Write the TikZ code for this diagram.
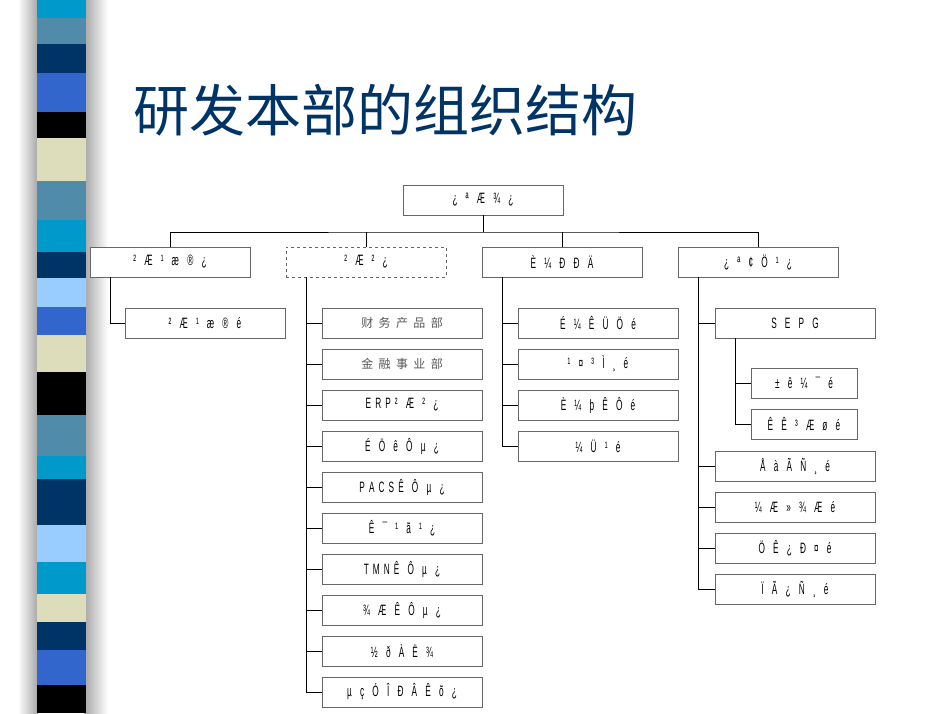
\documentclass[tikz,border=0pt]{standalone}
\usepackage{fontspec}
\setmainfont{Liberation Sans}
\newfontfamily\boxfont{Liberation Sans}[FakeStretch=0.55, LetterSpace=12]
\newfontfamily\cjk{Noto Sans CJK SC}
\begin{document}
\begin{tikzpicture}[x=1pt,y=-1pt,
	box/.style={draw=gray!80!black, thick, fill=white, minimum width=160pt, minimum height=30pt, inner sep=0pt, font=\boxfont\fontsize{15}{16}\selectfont},
	small/.style={box, minimum width=106pt},
	line/.style={thick, black}]
	\useasboundingbox (0,0) rectangle (950,713);
	\fill[white] (0,0) rectangle (950,713);
	% shadow of the band
	\shade[left color=white, right color=gray!70] (18,0) rectangle (38,713);
	\shade[left color=gray!70, right color=white] (84,0) rectangle (108,713);
	% band
	\foreach \ya/\yb/\r/\g/\b in {0/18/0/153/204, 18/44/80/140/170, 44/73/0/51/102, 73/112/51/102/204, 112/138/0/0/0, 138/181/221/221/187, 181/220/80/140/170, 220/252/0/153/204, 252/278/0/51/102, 278/307/153/204/255, 307/335/51/102/204, 335/372/221/221/187, 372/415/0/0/0, 415/456/80/140/170, 456/479/0/153/204, 479/525/0/51/102, 525/562/153/204/255, 562/594/0/153/204, 594/622/221/221/187, 622/650/0/51/102, 650/685/51/102/204, 685/713/0/0/0}
		\fill[fill={rgb,255:red,\r;green,\g;blue,\b}] (37,\ya) rectangle (86,\yb);
	% title
	\node[anchor=west, text={rgb,255:red,0;green,51;blue,102}, font=\cjk\fontsize{56}{60}\selectfont, inner sep=0pt] (title) at (133,110) {研发本部的组织结构};
	% top level
	\node[box] (top) at (483,200) {¿\ \ ª\ \ Æ\ \ ¾\ \ ¿};
	\node[box] (cm) at (170,262) {²\ \ Æ\ \ ¹\ \ æ\ \ ®\ \ ¿};
	\node[box, dashed] (pd) at (366,262) {²\ \ Æ\ \ ²\ \ ¿};
	\node[box] (sw) at (562,262) {È\ \ ¼\ \ Ð\ \ Ð\ \ Ä};
	\node[box] (dev) at (758,262) {¿\ \ ª\ \ ¢\ \ Ö\ \ ¹\ \ ¿};
	\coordinate (bus) at (483,232);
	\draw[line] (top) -- (bus);
	\draw[line] (cm.north) |- (bus) -| (dev.north);
	\draw[line] (pd.north) -- (pd.north |- bus);
	\draw[line] (sw.north) -- (sw.north |- bus);
	% first column
	\node[box] (cm1) at (205,323) {²\ \ Æ\ \ ¹\ \ æ\ \ ®\ \ é};
	\draw[line] (110,277) |- (cm1.west);
	% second column
	\foreach \i/\t in {1/{{\cjk\fontsize{12}{14}\selectfont\color{gray!70!black}财\ \ 务\ \ 产\ \ 品\ \ 部}}, 2/{{\cjk\fontsize{12}{14}\selectfont\color{gray!70!black}金\ \ 融\ \ 事\ \ 业\ \ 部}}, 3/{E\ R\ P\ ²\ \ Æ\ \ ²\ \ ¿}, 4/{É\ \ Ö\ \ ê\ \ Ô\ \ µ\ \ ¿}, 5/{P\ A\ C\ S\ Ê\ \ Ô\ \ µ\ \ ¿}, 6/{Ê\ \ ¯\ \ ¹\ \ ã\ \ ¹\ \ ¿}, 7/{T\ M\ N\ Ê\ \ Ô\ \ µ\ \ ¿}, 8/{¾\ \ Æ\ \ Ê\ \ Ô\ \ µ\ \ ¿}, 9/{½\ \ ð\ \ À\ \ Ë\ \ ¾}, 10/{µ\ \ ç\ \ Ó\ \ Î\ \ Ð\ \ Â\ \ Ê\ \ õ\ \ ¿}}
	{
		\node[box] (pd\i) at (402,282+41*\i) {\t};
		\draw[line] (306,282+41*\i) -- (pd\i.west);
	}
	\draw[line] (306,277) -- (306,692);
	% third column
	\foreach \i/\t in {1/{É\ \ ¼\ \ Ê\ \ Ü\ \ Ö\ \ é}, 2/{¹\ \ ¤\ \ ³\ \ Ì\ \ ¸\ \ é}, 3/{È\ \ ¼\ \ þ\ \ Ê\ \ Ô\ \ é}, 4/{¼\ \ Ü\ \ ¹\ \ é}}
	{
		\node[box] (sw\i) at (598,282+41*\i) {\t};
		\draw[line] (502,282+41*\i) -- (sw\i.west);
	}
	\draw[line] (502,277) -- (502,446);
	% fourth column
	\node[box] (sepg) at (795,323) {S\ \ E\ \ P\ \ G};
	\draw[line] (698,323) -- (sepg.west);
	\node[small] (sepg1) at (804,383) {±\ \ ê\ \ ¼\ \ ¯\ \ é};
	\node[small] (sepg2) at (804,424) {Ê\ \ Ê\ \ ³\ \ Æ\ \ ø\ \ é};
	\draw[line] (735,338) |- (sepg2.west);
	\draw[line] (735,383) -- (sepg1.west);
	\foreach \i/\t in {1/{Å\ \ à\ \ Ã\ \ Ñ\ \ ¸\ \ é}, 2/{¼\ \ Æ\ \ »\ \ ¾\ \ Æ\ \ é}, 3/{Ö\ \ Ê\ \ ¿\ \ Ð\ \ ¤\ \ é}, 4/{Ï\ \ Ã\ \ ¿\ \ Ñ\ \ ¸\ \ é}}
	{
		\node[box] (dev\i) at (795,425+41*\i) {\t};
		\draw[line] (698,425+41*\i) -- (dev\i.west);
	}
	\draw[line] (698,277) -- (698,589);
\end{tikzpicture}
\end{document}
